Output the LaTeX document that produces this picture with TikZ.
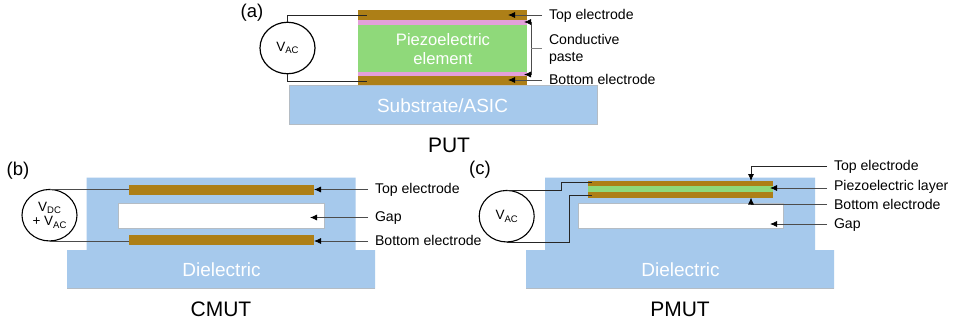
\documentclass[tikz,border=0pt]{standalone}
\usepackage{fontspec}
\setmainfont{Liberation Sans}
\usetikzlibrary{arrows.meta,shapes.geometric}
\definecolor{diel}{HTML}{A6C9EC}
\definecolor{brown}{HTML}{AD7F17}
\definecolor{piezo}{HTML}{8FD97A}
\definecolor{paste}{HTML}{E3A0DA}
\definecolor{rim}{HTML}{B4BCC4}
\newcommand{\fs}[1]{\fontsize{#1}{#1}\selectfont}
\tikzset{
  x=1pt,y=-1pt,
  layer/.style={inner sep=0,outer sep=0,draw=none},
  brownbox/.style={layer,fill=brown},
  pastebox/.style={layer,fill=paste},
  piezobox/.style={layer,fill=piezo},
  gapbox/.style={layer,fill=white,draw=rim,line width=.3pt},
  subbox/.style={layer,fill=diel,draw=rim,line width=.3pt},
  dielshape/.style={fill=diel,draw=none},
  inside/.style={text=white,font=\fs{16.6},align=center,inner sep=0},
  insidebig/.style={inside,font=\fs{19}},
  labbase/.style={anchor=west,inner sep=0,outer sep=0,font=\fs{14.1},align=left},
  lab/.style={labbase,text height=11pt,text depth=3pt},
  panel/.style={font=\fs{18.5},inner sep=0},
  title/.style={font=\fs{21},inner sep=0},
  source/.style={ellipse,draw=black,line width=1.2pt,fill=white,minimum width=55pt,minimum height=51.5pt,inner sep=0,outer sep=0,align=center,font=\fs{13.5}},
  wire/.style={draw=black!85,line width=.7pt},
  lead/.style={draw=black!70,line width=.8pt},
  arr/.style={lead,-{Latex[length=7pt,width=6pt,black]}},
}
\newcommand{\sbs}[1]{\raisebox{-2.5pt}{\fs{9.5}#1}}
\begin{document}
\begin{tikzpicture}
\useasboundingbox[fill=white] (0,0) rectangle (957,322);

% ---------- (a) PUT
\node[subbox,minimum width=308pt,minimum height=39pt] (asub) at (443,104.5) {};
\node[brownbox,minimum width=168.5pt,minimum height=10pt] (atop) at (442.7,15) {};
\node[pastebox,minimum width=168.5pt,minimum height=5pt] (apt) at (442.7,22.5) {};
\node[piezobox,minimum width=168.5pt,minimum height=47pt] (apz) at (442.7,48.5) {};
\node[pastebox,minimum width=168.5pt,minimum height=4.5pt] (apb) at (442.7,74.2) {};
\node[brownbox,minimum width=168.5pt,minimum height=9pt] (abot) at (442.7,80.7) {};
\node[inside] (apztxt) at (443,49) {Piezoelectric\\[3pt]element};
\node[insidebig] (asubtxt) at (442.5,105.5) {Substrate/ASIC};
\node[source] (av) at (287.5,48) {V\sbs{AC}};
\node[panel] (apanel) at (252,12.5) {(a)};
\node[title] (atitle) at (449,145) {PUT};
\node[lab] (alt) at (549,15) {Top electrode};
\node[labbase] (alc) at (549,49.5) {Conductive\\[3.5pt]paste};
\node[lab] (alb) at (549,80) {Bottom electrode};
\coordinate (awt) at (367,15);
\coordinate (awb) at (367,81);
\coordinate (aat) at (508,15);
\coordinate (aab) at (508,80);
\coordinate (abr1) at (531,22);
\coordinate (abr2) at (531,74.5);
\coordinate (abrm) at (531,48);
\coordinate (abrs) at (542,48);
\coordinate (aet) at (524,22);
\coordinate (aeb) at (524,74.5);
\draw[wire] (av.north) |- (awt);
\draw[wire] (av.south) |- (awb);
\draw[arr] ([xshift=-7pt]alt.west) -- (aat);
\draw[arr] ([xshift=-7pt]alb.west) -- (aab);
\draw[arr] (abrm) -- (abr1) -- (aet);
\draw[arr] (abrm) -- (abr2) -- (aeb);
\draw[lead,draw=black!50] (abrm) -- (abrs);

% ---------- (b) CMUT
\path[dielshape] (86.5,177.5) -- (355.5,177.5) -- (355.5,250) -- (375,250) -- (375,288.5) -- (67,288.5) -- (67,250) -- (86.5,250) -- cycle;
\draw[rim,line width=.3pt] (67,288.5) -- (375,288.5);
\node[gapbox,minimum width=206pt,minimum height=25pt] (bgap) at (221.5,215.5) {};
\node[brownbox,minimum width=185pt,minimum height=10pt] (btop) at (221.5,190) {};
\node[brownbox,minimum width=185pt,minimum height=10pt] (bbot) at (221.5,240) {};
\node[insidebig] (bdi) at (221.5,270) {Dielectric};
\node[source,font=\fs{13.5},line width=1.1pt] (bv) at (49.5,215.2) {V\sbs{DC}\\[1pt]+ V\sbs{AC}};
\node[panel] (bpanel) at (18,171) {(b)};
\node[title] (btitle) at (221,309) {CMUT};
\node[lab] (blt) at (375,189.5) {Top electrode};
\node[lab] (blg) at (375,217.5) {Gap};
\node[lab] (blb) at (375,241) {Bottom electrode};
\coordinate (bag) at (310,217.5);
\draw[lead] (bv.north) -- (bv.north -| btop.west);
\draw[lead] (bv.south) -- (bv.south -| bbot.west);
\draw[arr] ([xshift=-7pt]blt.west) -- (blt.west -| btop.east);
\draw[arr] ([xshift=-7pt]blg.west) -- (bag);
\draw[arr] ([xshift=-7pt]blb.west) -- (blb.west -| bbot.east);

% ---------- (c) PMUT
\path[dielshape] (545,177.5) -- (815,177.5) -- (815,250) -- (834,250) -- (834,288.5) -- (526,288.5) -- (526,250) -- (545,250) -- cycle;
\draw[rim,line width=.3pt] (526,288.5) -- (834,288.5);
\node[gapbox,minimum width=205pt,minimum height=25pt] (cgap) at (680.5,215.5) {};
\node[brownbox,minimum width=184.5pt,minimum height=17pt] (cstack) at (680.3,189.3) {};
\node[piezobox,minimum width=184.5pt,minimum height=6.5pt] (cpz) at (680.3,189.2) {};
\node[insidebig] (cdi) at (680.5,269.5) {Dielectric};
\node[source,font=\fs{13.5},line width=1.1pt] (cv) at (506.7,216.2) {V\sbs{AC}};
\node[panel] (cpanel) at (480,170) {(c)};
\node[title] (ctitle) at (680,309) {PMUT};
\node[lab] (clt) at (834,166) {Top electrode};
\node[lab] (clp) at (834,186) {Piezoelectric layer};
\node[lab] (clb) at (834,205) {Bottom electrode};
\node[lab] (clg) at (834,224) {Gap};
\coordinate (cw2) at (561,182.5);
\coordinate (cw3) at (592,182.5);
\coordinate (cw5) at (569,195);
\coordinate (cw6) at (592,195);
\coordinate (ca1) at (751,166);
\coordinate (ca1e) at (751,181);
\coordinate (ca2) at (751,204.5);
\coordinate (ca2e) at (751,197.5);
\coordinate (cap) at (770,188);
\coordinate (cag) at (770,224);
\draw[wire] (cv.north) -| (cw2) -- (cw3);
\draw[wire] (cv.south) -| (cw5) -- (cw6);
\draw[arr,draw=black!85] ([xshift=-7pt]clt.west) -- (ca1) -- (ca1e);
\draw[arr] ([xshift=-7pt,yshift=-2pt]clp.west) -- (cap);
\draw[arr] ([xshift=-7pt,yshift=.5pt]clb.west) -- (ca2) -- (ca2e);
\draw[arr] ([xshift=-7pt]clg.west) -- (cag);
\end{tikzpicture}
\end{document}
